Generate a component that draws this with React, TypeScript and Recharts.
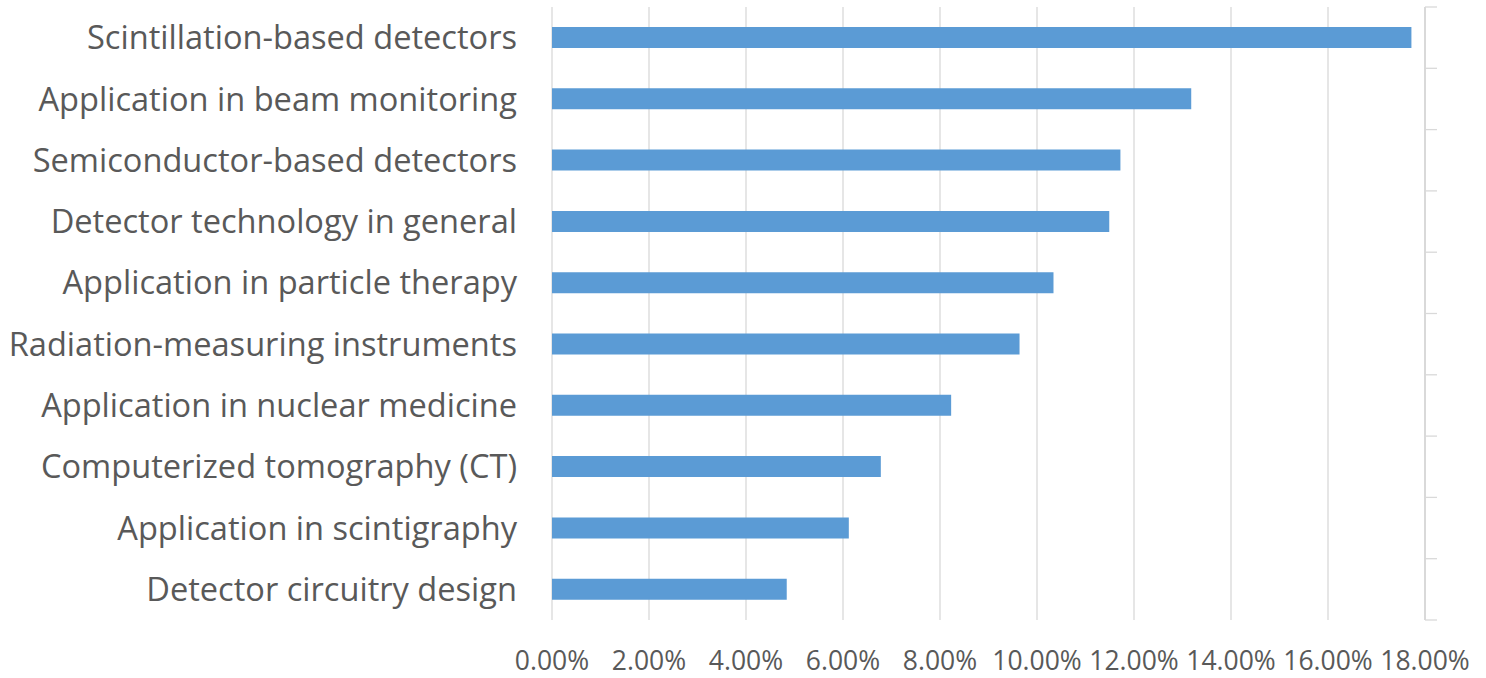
import React from "react";
import { BarChart, Bar, XAxis, YAxis, CartesianGrid } from "recharts";

const categories = [
  "Scintillation-based detectors",
  "Application in beam monitoring",
  "Semiconductor-based detectors",
  "Detector technology in general",
  "Application in particle therapy",
  "Radiation-measuring instruments",
  "Application in nuclear medicine",
  "Computerized tomography (CT)",
  "Application in scintigraphy",
  "Detector circuitry design",
];
const shares = [17.72, 13.18, 11.72, 11.49, 10.34, 9.64, 8.23, 6.78, 6.12, 4.84];
const xTicks = [0, 2, 4, 6, 8, 10, 12, 14, 16, 18];

const data = categories.map((name, i) => ({ name, value: shares[i] }));

const FONT = "'Open Sans', Lato, sans-serif";
const TEXT = "#595959";
const GRID = "#d9d9d9";

const EdgeTick = (props: any) => {
  const { x, y, payload, index } = props;
  const off = payload && payload.offset ? payload.offset : 0;
  const last = index === categories.length - 1;
  return (
    <g>
      <line x1={x} x2={x + 12} y1={y - off} y2={y - off} stroke={GRID} strokeWidth={1.3} />
      {last ? (
        <line x1={x} x2={x + 12} y1={y + off} y2={y + off} stroke={GRID} strokeWidth={1.3} />
      ) : null}
    </g>
  );
};

export default function App() {
  return (
    <div style={{ position: "absolute", left: 0, top: 0, background: "#fff" }}>
      <BarChart
        width={1486}
        height={678}
        data={data}
        layout="vertical"
        margin={{ top: 7, right: 0, bottom: 0, left: 0 }}
      >
        <CartesianGrid horizontal={false} stroke={GRID} strokeWidth={1.3} />
        <XAxis
          type="number"
          dataKey="value"
          domain={[0, 18]}
          ticks={xTicks}
          allowDataOverflow
          axisLine={false}
          tickLine={false}
          tickSize={0}
          tickMargin={31}
          height={58}
          interval={0}
          tickFormatter={(v: number) => v.toFixed(2) + "%"}
          tick={{ fill: TEXT, fontSize: 26.5, fontFamily: FONT }}
        />
        <YAxis
          yAxisId="cat"
          type="category"
          dataKey="name"
          width={552}
          axisLine={false}
          tickLine={false}
          tickSize={0}
          tickMargin={35}
          interval={0}
          tick={{ fill: TEXT, fontSize: 32.6, fontFamily: FONT }}
        />
        <YAxis
          yAxisId="edge"
          orientation="right"
          type="category"
          dataKey="name"
          width={61}
          interval={0}
          tickSize={0}
          tickMargin={0}
          axisLine={{ stroke: GRID, strokeWidth: 2 }}
          tickLine={false}
          tick={<EdgeTick />}
        />
        <Bar
          yAxisId="cat"
          dataKey="value"
          fill="#5b9bd5"
          barSize={21}
          isAnimationActive={false}
        />
      </BarChart>
    </div>
  );
}
